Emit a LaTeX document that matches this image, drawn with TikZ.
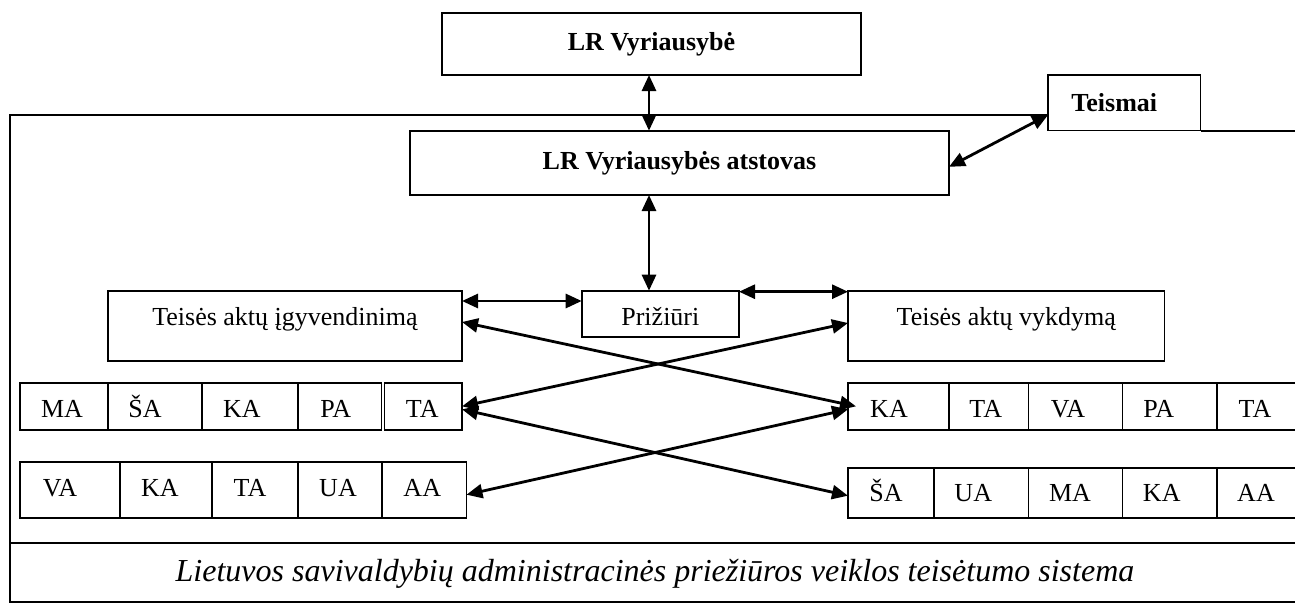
\documentclass[tikz,border=0pt]{standalone}
\usepackage{fontspec}
\setmainfont{Liberation Serif}
\usetikzlibrary{arrows.meta,calc}
% shift a label sideways inside its box without changing the box width
\newcommand\nudge[2]{\hspace*{#1pt}#2\hspace*{-#1pt}}
\begin{document}
\begin{tikzpicture}[x=1pt,y=-1pt,
  every node/.style={font=\fontsize{26}{31}\selectfont},
  box/.style={draw, line width=1.7pt, inner sep=0pt, outer sep=0pt, anchor=north west},
  head/.style={box, font=\fontsize{26}{31}\selectfont\bfseries},
  cell/.style={box, text depth=0pt},
  rowa/.style={cell, minimum height=47.3pt, text height=23pt},
  rowb/.style={cell, minimum height=56pt, text height=14pt},
  rowc/.style={cell, minimum height=50pt, text height=18pt},
  frame/.style={line width=2pt},
  link/.style={line width=2.8pt,
    {Triangle[length=16pt,width=14pt]}-{Triangle[length=16pt,width=14pt]}}
]
\clip (0,0) rectangle (1295,603);

% top level bodies
\node[head, minimum width=419pt, minimum height=62pt] (gov) at (442,13) {LR Vyriausybė};
\node[head, minimum width=152.6pt, minimum height=55.5pt] (court) at (1048,75) {\nudge{-10}{Teismai}};
\node[head, minimum width=539pt, minimum height=64.3pt] (rep) at (410,130.7) {LR Vyriausybės atstovas};

% system frame
\coordinate (ftl) at (10,115);
\draw[frame] (court.west |- ftl) -- (ftl) -- (10,602) -- (1300,602);
\draw[frame] (court.south east) -- (court.south east -| 1300,0);
\draw[frame] (10,543) -- (1300,543);

% supervision level
\node[box, minimum width=354pt, minimum height=70pt, text height=17pt, text depth=19pt] (impl) at (108,291) {Teisės aktų įgyvendinimą};
\node[box, minimum width=157.3pt, minimum height=46pt, text height=22.6pt, text depth=0pt] (watch) at (581.7,290.7) {Prižiūri};
\node[box, minimum width=316.5pt, minimum height=70pt, text height=17pt, text depth=19pt] (exec) at (848,291) {Teisės aktų vykdymą};

% municipal administrations, left
\node[rowa, minimum width=88pt]   (a1) at (20,382.7)    {\nudge{-2}{MA}};
\node[rowa, minimum width=94pt]   (a2) at (108,382.7)   {\nudge{-10}{ŠA}};
\node[rowa, minimum width=96pt]   (a3) at (202,382.7)   {\nudge{-8}{KA}};
\node[rowa, minimum width=83.5pt] (a4) at (298,382.7)   {\nudge{-4}{PA}};
\node[rowa, minimum width=77.5pt] (a5) at (384.5,382.7) {\nudge{-1}{TA}};

\node[rowb, minimum width=100pt]  (b1) at (20,461.7)  {\nudge{-10}{VA}};
\node[rowb, minimum width=92pt]   (b2) at (120,461.7) {\nudge{-6}{KA}};
\node[rowb, minimum width=86pt]   (b3) at (212,461.7) {\nudge{-5}{TA}};
\node[rowb, minimum width=84pt]   (b4) at (298,461.7) {\nudge{-2}{UA}};
\node[rowb, minimum width=84.5pt] (b5) at (382,461.7) {\nudge{-2}{AA}};

% municipal administrations, right
\node[rowa, minimum width=101pt]  (c1) at (848,382.7)    {\nudge{-9.5}{KA}};
\node[rowa, minimum width=79.5pt] (c2) at (949,382.7)    {\nudge{-3}{TA}};
\node[rowa, minimum width=94pt]   (c3) at (1028.5,382.7) {\nudge{-7.5}{VA}};
\node[rowa, minimum width=94.5pt] (c4) at (1122.5,382.7) {\nudge{-11}{PA}};
\node[rowa, minimum width=80pt]   (c5) at (1217,382.7)   {\nudge{-2}{TA}};

\node[rowc, minimum width=86pt]   (d1) at (848,467.7)    {\nudge{-5}{ŠA}};
\node[rowc, minimum width=94.5pt] (d2) at (934,467.7)    {\nudge{-8}{UA}};
\node[rowc, minimum width=94pt]   (d3) at (1028.5,467.7) {\nudge{-5.5}{MA}};
\node[rowc, minimum width=94.5pt] (d4) at (1122.5,467.7) {\nudge{-8}{KA}};
\node[rowc, minimum width=80pt]   (d5) at (1217,467.7)   {\nudge{-1}{AA}};

% caption strip
\node[anchor=base, font=\fontsize{32}{38}\selectfont\itshape] (sys) at (655,581.7)
  {Lietuvos savivaldybių administracinės priežiūros veiklos teisėtumo sistema};

% connections
\coordinate (axis) at (649,0);
\draw[link] (gov.south -| axis) -- (rep.north -| axis);
\draw[link] (rep.south -| axis) -- (watch.north -| axis);
\draw[link] (court.west |- ftl) -- ([yshift=-4pt]rep.east);

\coordinate (ig) at ([yshift=-10pt]impl.north east);
\draw[link] (ig) -- (ig -| watch.west);
\draw[link] ([yshift=-1pt]watch.north east) -- ([yshift=-1pt]watch.north east -| exec.west);

\draw[link] ([yshift=4pt]impl.east) -- ([xshift=8pt]c1.west);
\draw[link] (a5.east) -- ([yshift=3pt]exec.west);
\draw[link] ([yshift=-3pt]a5.east) -- ([yshift=-3pt]d1.west);
\draw[link] ([yshift=-5pt]b5.east) -- ([yshift=-3pt]c1.west);
\end{tikzpicture}
\end{document}
